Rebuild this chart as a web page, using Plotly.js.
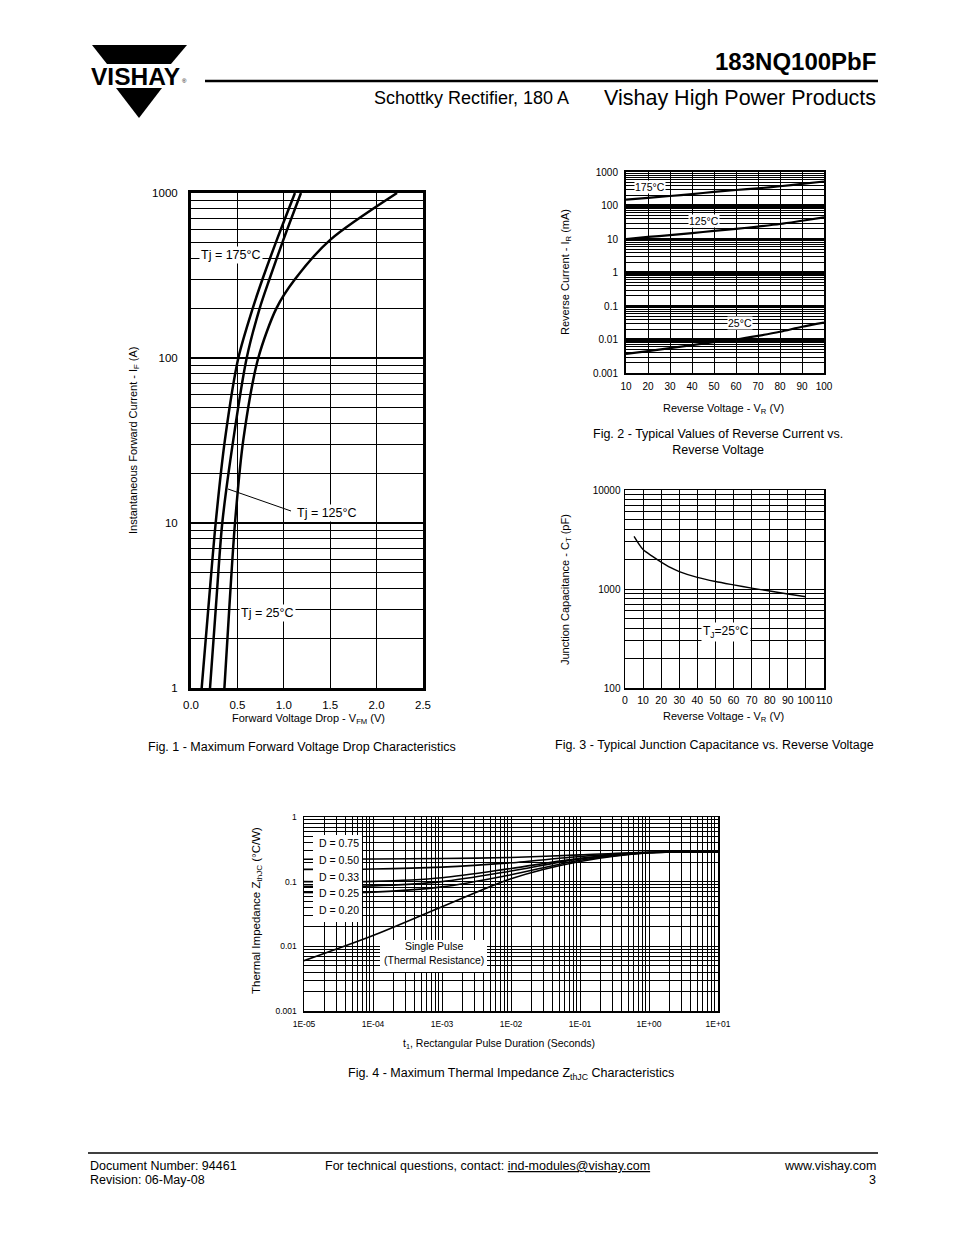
<!DOCTYPE html>
<html><head><meta charset="utf-8">
<script src="https://cdn.plot.ly/plotly-3.0.1.min.js"></script>
<style>html,body{margin:0;padding:0;background:#fff}#chart{width:954px;height:1235px}</style>
</head><body><div id="chart"></div>
<script>
// ---------- Fig. 1 data : forward current (A) vs forward voltage (V)
const fig1Current = [1, 3.2, 10, 32, 100, 200, 300, 520, 1000];
const fig1V175 = [0.115, 0.19, 0.266, 0.366, 0.51, 0.665, 0.77, 0.925, 1.12];
const fig1V125 = [0.205, 0.27, 0.337, 0.456, 0.60, 0.74, 0.845, 0.995, 1.185];
const fig1V25  = [0.36, 0.415, 0.474, 0.564, 0.725, 0.92, 1.12, 1.50, 2.22];
const fig1XTicks = [0, 0.5, 1, 1.5, 2, 2.5];
const fig1XLabels = ['0.0', '0.5', '1.0', '1.5', '2.0', '2.5'];
const fig1YTicks = [1, 10, 100, 1000];
const fig1YLabels = ['1', '10', '100', '1000'];

// ---------- Fig. 2 data : reverse current (mA) vs reverse voltage (V)
const fig2Voltage = [10, 20, 30, 40, 50, 60, 70, 80, 90, 100];
const fig2I175 = [150, 170, 192, 218, 255, 290, 325, 375, 440, 520];
const fig2I125 = [10, 11.5, 13, 15, 17.5, 20, 23.5, 28, 35, 44];
const fig2I25  = [0.0037, 0.0045, 0.0055, 0.0068, 0.0083, 0.0100, 0.0128, 0.017, 0.024, 0.032];
const fig2XTicks = [10, 20, 30, 40, 50, 60, 70, 80, 90, 100];
const fig2YTicks = [0.001, 0.01, 0.1, 1, 10, 100, 1000];
const fig2YLabels = ['0.001', '0.01', '0.1', '1', '10', '100', '1000'];

// ---------- Fig. 3 data : junction capacitance (pF) vs reverse voltage (V)
const fig3Voltage = [5, 10, 15, 20, 25, 30, 40, 50, 60, 70, 80, 90, 100];
const fig3Cap = [3400, 2500, 2150, 1870, 1650, 1500, 1310, 1190, 1100, 1020, 955, 890, 835];
const fig3XTicks = [0, 10, 20, 30, 40, 50, 60, 70, 80, 90, 100, 110];
const fig3YTicks = [100, 1000, 10000];
const fig3YLabels = ['100', '1000', '10000'];

// ---------- Fig. 4 data : thermal impedance (°C/W) vs pulse duration (s)
const fig4Time = [1e-5, 1e-4, 1e-3, 1e-2, 1e-1, 1, 10];
const fig4D075 = [0.222, 0.224, 0.228, 0.237, 0.26, 0.285, 0.287];
const fig4D050 = [0.155, 0.157, 0.168, 0.196, 0.245, 0.284, 0.287];
const fig4D033 = [0.100, 0.101, 0.115, 0.160, 0.230, 0.283, 0.287];
const fig4D025 = [0.085, 0.086, 0.100, 0.146, 0.225, 0.282, 0.287];
const fig4D020 = [0.068, 0.069, 0.083, 0.128, 0.215, 0.280, 0.287];
const fig4Single = [0.006, 0.0147, 0.041, 0.111, 0.205, 0.280, 0.287];
const fig4XTicks = [1e-5, 1e-4, 1e-3, 1e-2, 1e-1, 1, 10];
const fig4XLabels = ['1E-05', '1E-04', '1E-03', '1E-02', '1E-01', '1E+00', '1E+01'];
const fig4YTicks = [0.001, 0.01, 0.1, 1];
const fig4YLabels = ['0.001', '0.01', '0.1', '1'];
const fig4DLabels = ['D = 0.75', 'D = 0.50', 'D = 0.33', 'D = 0.25', 'D = 0.20'];

// ---------- helpers
const W = 954, H = 1235;
const FONT = 'Liberation Sans, Arial, Helvetica, sans-serif';
const px = x => x / W;
const py = y => 1 - y / H;
function minorLog(d0, d1) {
  const v = [];
  for (let d = d0; d < d1; d++) for (let m = 2; m <= 9; m++) v.push(m * Math.pow(10, d));
  return v;
}
function ann(text, x, y, o) {
  return Object.assign({text: text, x: px(x), y: py(y), xref: 'paper', yref: 'paper',
    showarrow: false, xanchor: 'center', yanchor: 'middle',
    font: {family: FONT, size: 11, color: '#000'}}, o || {});
}
function f(size, extra) { return Object.assign({family: FONT, size: size, color: '#000'}, extra || {}); }
function line(x0, y0, x1, y1, w) {
  return {type: 'line', xref: 'paper', yref: 'paper', x0: px(x0), y0: py(y0), x1: px(x1), y1: py(y1),
    line: {color: '#000', width: w}};
}
function path(pts) {
  return {type: 'path', xref: 'paper', yref: 'paper',
    path: 'M ' + pts.map(p => px(p[0]) + ',' + py(p[1])).join(' L ') + ' Z',
    fillcolor: '#000', line: {width: 0}};
}
function baseAxis(o) {
  return Object.assign({showgrid: true, gridcolor: '#000', gridwidth: 1, showline: true, mirror: true,
    linecolor: '#000', zeroline: false, ticks: '', fixedrange: true, tickangle: 0}, o);
}
function trace(x, y, xa, ya, w) {
  return {x: x, y: y, xaxis: xa, yaxis: ya, mode: 'lines', type: 'scatter',
    line: {color: '#000', width: w, shape: 'spline', smoothing: 0.8}, hoverinfo: 'skip', showlegend: false};
}

const data = [
  trace(fig1V175, fig1Current, 'x', 'y', 2.5),
  trace(fig1V125, fig1Current, 'x', 'y', 2.5),
  trace(fig1V25, fig1Current, 'x', 'y', 2.5),
  trace(fig2Voltage, fig2I175, 'x2', 'y2', 2.2),
  trace(fig2Voltage, fig2I125, 'x2', 'y2', 2.2),
  trace(fig2Voltage, fig2I25, 'x2', 'y2', 2.2),
  trace(fig3Voltage, fig3Cap, 'x3', 'y3', 1.4),
  trace(fig4Time, fig4D075, 'x4', 'y4', 1.6),
  trace(fig4Time, fig4D050, 'x4', 'y4', 1.6),
  trace(fig4Time, fig4D033, 'x4', 'y4', 1.6),
  trace(fig4Time, fig4D025, 'x4', 'y4', 1.6),
  trace(fig4Time, fig4D020, 'x4', 'y4', 1.6),
  trace(fig4Time, fig4Single, 'x4', 'y4', 1.6)
];

const layout = {
  width: W, height: H, margin: {l: 0, r: 0, t: 0, b: 0}, paper_bgcolor: '#fff', plot_bgcolor: '#fff',
  showlegend: false, font: {family: FONT, color: '#000'},
  // Fig 1
  xaxis: baseAxis({domain: [px(191), px(423)], anchor: 'y', range: [0, 2.5], tickmode: 'array',
    tickvals: fig1XTicks, ticktext: fig1XLabels, linewidth: 3, tickfont: f(11.5), ticklabelstandoff: 4}),
  yaxis: baseAxis({domain: [py(688), py(193)], anchor: 'x', type: 'log', range: [0, 3], tickmode: 'array',
    tickvals: fig1YTicks, ticktext: fig1YLabels, gridwidth: 2.5, linewidth: 3, tickfont: f(11.5), ticklabelstandoff: 8,
    minor: {tickmode: 'array', tickvals: minorLog(0, 3), showgrid: true, gridcolor: '#000', gridwidth: 1, ticks: ''}}),
  // Fig 2
  xaxis2: baseAxis({domain: [px(626), px(824)], anchor: 'y2', range: [10, 100], tickmode: 'array',
    tickvals: fig2XTicks, linewidth: 2, tickfont: f(10), ticklabelstandoff: 3}),
  yaxis2: baseAxis({domain: [py(373), py(172)], anchor: 'x2', type: 'log', range: [-3, 3], tickmode: 'array',
    tickvals: fig2YTicks, ticktext: fig2YLabels, gridwidth: 2.5, linewidth: 2, tickfont: f(10), ticklabelstandoff: 4,
    minor: {tickmode: 'array', tickvals: minorLog(-3, 3), showgrid: true, gridcolor: '#000', gridwidth: 1, ticks: ''}}),
  // Fig 3
  xaxis3: baseAxis({domain: [px(625), px(824)], anchor: 'y3', range: [0, 110], tickmode: 'array',
    tickvals: fig3XTicks, linewidth: 1.5, tickfont: f(10.5), ticklabelstandoff: 2}),
  yaxis3: baseAxis({domain: [py(688), py(490)], anchor: 'x3', type: 'log', range: [2, 4], tickmode: 'array',
    tickvals: fig3YTicks, ticktext: fig3YLabels, linewidth: 1.5, tickfont: f(10), ticklabelstandoff: 1,
    minor: {tickmode: 'array', tickvals: minorLog(2, 4), showgrid: true, gridcolor: '#000', gridwidth: 1, ticks: ''}}),
  // Fig 4
  xaxis4: baseAxis({domain: [px(304), px(718)], anchor: 'y4', type: 'log', range: [-5, 1], tickmode: 'array',
    tickvals: fig4XTicks, ticktext: fig4XLabels, linewidth: 1.5, tickfont: f(8.5), ticklabelstandoff: 4,
    minor: {tickmode: 'array', tickvals: minorLog(-5, 1), showgrid: true, gridcolor: '#000', gridwidth: 1, ticks: ''}}),
  yaxis4: baseAxis({domain: [py(1011), py(817)], anchor: 'x4', type: 'log', range: [-3, 0], tickmode: 'array',
    tickvals: fig4YTicks, ticktext: fig4YLabels, linewidth: 1.5, tickfont: f(8.5), ticklabelstandoff: 4,
    minor: {tickmode: 'array', tickvals: minorLog(-3, 0), showgrid: true, gridcolor: '#000', gridwidth: 1, ticks: ''}}),
  shapes: [
    // logo
    path([[92, 45], [187, 45], [171, 64], [107, 64]]),
    path([[116, 88], [162, 88], [139, 118]]),
    // header / footer rules
    line(205, 81, 878, 81, 2.5),
    line(88, 1153, 878, 1153, 1.5),
    // Fig 1 leader for Tj = 125 °C
    line(228, 489, 291, 511, 1),
    // Fig 4 label boxes
    {type: 'rect', xref: 'paper', yref: 'paper', x0: px(313), x1: px(362), y0: py(835), y1: py(922),
      fillcolor: '#fff', line: {width: 0}, layer: 'above'},
    {type: 'rect', xref: 'paper', yref: 'paper', x0: px(380), x1: px(487), y0: py(940), y1: py(972),
      fillcolor: '#fff', line: {width: 0}, layer: 'above'}
  ],
  annotations: [
    // header
    ann('<b>VISHAY</b>', 135, 76, {font: f(24.5)}),
    ann('®', 184, 81, {font: f(6)}),
    ann('<b>183NQ100PbF</b>', 878, 62, {xanchor: 'right', font: f(24)}),
    ann('Schottky Rectifier, 180 A', 372, 98, {xanchor: 'left', font: f(18)}),
    ann('Vishay High Power Products', 878, 98, {xanchor: 'right', font: f(21.5)}),
    // Fig 1
    ann('Tj = 175°C', 231, 255, {font: f(12.5), bgcolor: '#fff', borderpad: 1}),
    ann('Tj = 125°C', 327, 513, {font: f(12.5), bgcolor: '#fff', borderpad: 1}),
    ann('Tj = 25°C', 267, 613, {font: f(12.5), bgcolor: '#fff', borderpad: 1}),
    ann('Instantaneous Forward Current - I<sub>F</sub> (A)', 134, 440, {textangle: -90, font: f(11)}),
    ann('Forward Voltage Drop - V<sub>FM</sub> (V)', 308, 719, {font: f(11)}),
    ann('Fig. 1 - Maximum Forward Voltage Drop Characteristics', 302, 747, {font: f(12.5)}),
    // Fig 2
    ann('175°C', 650, 187, {font: f(10.5), bgcolor: '#fff', borderpad: 0}),
    ann('125°C', 704, 221, {font: f(10.5), bgcolor: '#fff', borderpad: 0}),
    ann('25°C', 740, 323, {font: f(10.5), bgcolor: '#fff', borderpad: 0}),
    ann('Reverse Current - I<sub>R</sub> (mA)', 566, 272, {textangle: -90, font: f(11)}),
    ann('Reverse Voltage - V<sub>R</sub> (V)', 723, 409, {font: f(11)}),
    ann('Fig. 2 - Typical Values of Reverse Current vs.<br>Reverse Voltage', 718, 442, {font: f(12.5)}),
    // Fig 3
    ann('T<sub>J</sub>=25°C', 726, 632, {font: f(12), bgcolor: '#fff', borderpad: 1}),
    ann('Junction Capacitance - C<sub>T</sub> (pF)', 566, 590, {textangle: -90, font: f(11)}),
    ann('Reverse Voltage - V<sub>R</sub> (V)', 723, 717, {font: f(11)}),
    ann('Fig. 3 - Typical Junction Capacitance vs. Reverse Voltage', 714, 745, {font: f(12.5)}),
    // Fig 4
    ann(fig4DLabels[0], 317, 843, {xanchor: 'left', font: f(10.5)}),
    ann(fig4DLabels[1], 317, 860, {xanchor: 'left', font: f(10.5)}),
    ann(fig4DLabels[2], 317, 876.5, {xanchor: 'left', font: f(10.5)}),
    ann(fig4DLabels[3], 317, 893, {xanchor: 'left', font: f(10.5)}),
    ann(fig4DLabels[4], 317, 910, {xanchor: 'left', font: f(10.5)}),
    ann('Single Pulse<br>(Thermal Resistance)', 434, 953, {font: f(10.5)}),
    ann('Thermal Impedance Z<sub>thJC</sub> (°C/W)', 257, 911, {textangle: -90, font: f(11.5)}),
    ann('t<sub>1</sub>, Rectangular Pulse Duration (Seconds)', 499, 1044, {font: f(10.5)}),
    ann('Fig. 4 - Maximum Thermal Impedance Z<sub>thJC</sub> Characteristics', 511, 1074, {font: f(12.5)}),
    // footer
    ann('Document Number: 94461', 88, 1166, {xanchor: 'left', font: f(12.5)}),
    ann('Revision: 06-May-08', 88, 1180, {xanchor: 'left', font: f(12.5)}),
    ann('For technical questions, contact: <u>ind-modules@vishay.com</u>', 323, 1166, {xanchor: 'left', font: f(12.5)}),
    ann('www.vishay.com', 878, 1166, {xanchor: 'right', font: f(12.5)}),
    ann('3', 878, 1180, {xanchor: 'right', font: f(12.5)})
  ]
};

Plotly.newPlot('chart', data, layout, {staticPlot: true, displayModeBar: false});
</script>
</body></html>
